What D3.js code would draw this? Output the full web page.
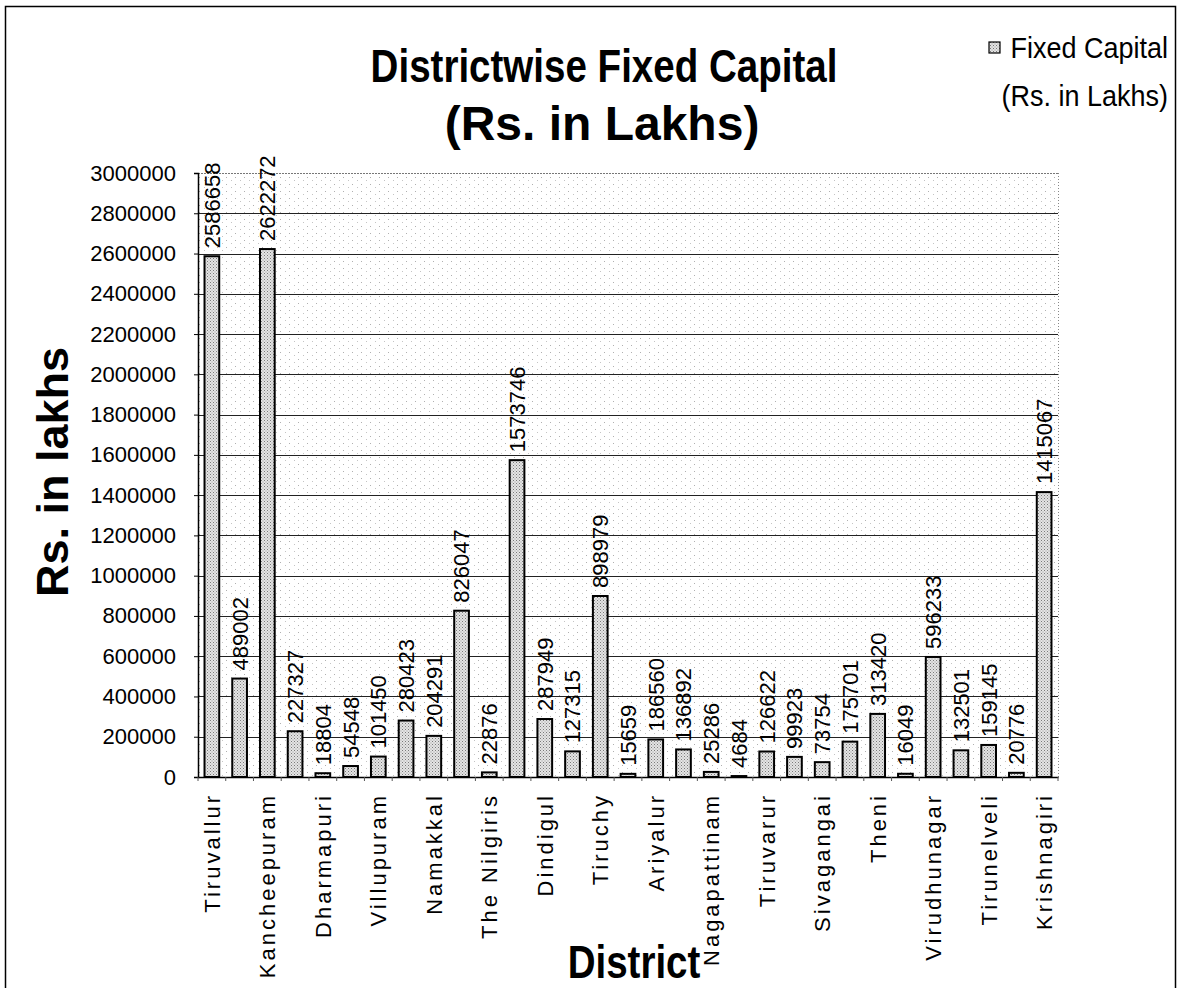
<!DOCTYPE html>
<html>
<head>
<meta charset="utf-8">
<script src="https://cdn.jsdelivr.net/npm/d3@7"></script>
<style>
html,body{margin:0;padding:0;background:#fff;}
svg{display:block;}
</style>
</head>
<body>
<svg id="chart" width="1180" height="988"></svg>
<script>
const categories = ["Tiruvallur","Chennai","Kancheepuram","Vellore","Dharmapuri","Tiruvannamalai","Villupuram","Salem","Namakkal","Erode","The Nilgiris","Coimbatore","Dindigul","Karur","Tiruchy","Perambalur","Ariyalur","Cuddalore","Nagapattinam","Thanjavur","Tiruvarur","Pudukkottai","Sivagangai","Madurai","Theni","Ramanathapuram","Virudhunagar","Thoothukudi","Tirunelveli","Kanniyakumari","Krishnagiri"];
const fixedCapital = [2586658,489002,2622272,227327,18804,54548,101450,280423,204291,826047,22876,1573746,287949,127315,898979,15659,186560,136892,25286,4684,126622,99923,73754,175701,313420,16049,596233,132501,159145,20776,1415067];
const shownLabels = ["Tiruvallur","Kancheepuram","Dharmapuri","Villupuram","Namakkal","The Nilgiris","Dindigul","Tiruchy","Ariyalur","Nagapattinam","Tiruvarur","Sivagangai","Theni","Virudhunagar","Tirunelveli","Krishnagiri"];
const yTicks = [0,200000,400000,600000,800000,1000000,1200000,1400000,1600000,1800000,2000000,2200000,2400000,2600000,2800000,3000000];
const titleLines = ["Districtwise Fixed Capital","(Rs. in Lakhs)"];
const legendLines = ["Fixed Capital","(Rs. in Lakhs)"];

const svg = d3.select("#chart");
const plot = {left:198, right:1058, top:173, bottom:777};
const FONT = "'Liberation Sans', Arial, sans-serif";

const defs = svg.append("defs");
const bp = defs.append("pattern").attr("id","barFill").attr("patternUnits","userSpaceOnUse").attr("width",3).attr("height",3);
bp.append("rect").attr("width",3).attr("height",3).attr("fill","#e4e4e4");
bp.append("rect").attr("x",0).attr("y",0).attr("width",1).attr("height",1).attr("fill","#7a7a7a");
bp.append("rect").attr("x",1.5).attr("y",1.5).attr("width",1).attr("height",1).attr("fill","#9a9a9a");
const bg = defs.append("pattern").attr("id","bgFill").attr("patternUnits","userSpaceOnUse").attr("width",9).attr("height",7);
bg.append("rect").attr("width",9).attr("height",7).attr("fill","#ffffff");
bg.append("rect").attr("x",1).attr("y",2).attr("width",1).attr("height",1).attr("fill","#b0b0b0");
bg.append("rect").attr("x",6).attr("y",5).attr("width",1).attr("height",1).attr("fill","#c4c4c4");

// outer frame
svg.append("rect").attr("x",5.5).attr("y",6.5).attr("width",1170).attr("height",1000)
  .attr("fill","none").attr("stroke","#000").attr("stroke-width",1.5);

const x = d3.scaleBand().domain(categories).range([plot.left, plot.right]).paddingInner(0.47).paddingOuter(0.235);
const y = d3.scaleLinear().domain([0,3000000]).range([plot.bottom, plot.top]);

// plot background
svg.append("rect").attr("x",plot.left).attr("y",plot.top).attr("width",plot.right-plot.left).attr("height",plot.bottom-plot.top)
  .attr("fill","url(#bgFill)");

// gridlines
svg.append("g").selectAll("line").data(yTicks.filter(d=>d>0)).join("line")
  .attr("x1",plot.left).attr("x2",plot.right)
  .attr("y1",d=>Math.round(y(d))+0.5).attr("y2",d=>Math.round(y(d))+0.5)
  .attr("stroke",d=>d===3000000?"#777":"#222").attr("stroke-width",1)
  .attr("stroke-dasharray",d=>d===3000000?"2,1":null);

// right border of plot
svg.append("line").attr("x1",plot.right+0.5).attr("x2",plot.right+0.5).attr("y1",plot.top).attr("y2",plot.bottom)
  .attr("stroke","#888").attr("stroke-dasharray","1,2");

// bars
svg.append("g").selectAll("rect").data(categories).join("rect")
  .attr("x",d=>x(d)).attr("width",x.bandwidth())
  .attr("y",(d,i)=>y(fixedCapital[i])).attr("height",(d,i)=>y(0)-y(fixedCapital[i]))
  .attr("fill","url(#barFill)").attr("stroke","#000").attr("stroke-width",2);

// value labels
svg.append("g").selectAll("text").data(categories).join("text")
  .attr("transform",(d,i)=>`translate(${x(d)+x.bandwidth()/2},${y(fixedCapital[i])-8}) rotate(-90)`)
  .attr("dy","0.36em").attr("text-anchor","start")
  .attr("font-family",FONT).attr("font-size",22)
  .attr("fill","#000")
  .text((d,i)=>fixedCapital[i]);

// y axis
const yAxis = d3.axisLeft(y).tickValues(yTicks).tickSize(4).tickPadding(18).tickFormat(d3.format("d"));
const gy = svg.append("g").attr("transform",`translate(${plot.left},0)`).call(yAxis);
gy.select(".domain").attr("stroke","#000").attr("stroke-width",1.5);
gy.selectAll(".tick line").attr("stroke","#000");
gy.selectAll(".tick text").attr("font-family",FONT).attr("font-size",22).attr("fill","#000");

// x axis
const xAxis = d3.axisBottom(x).tickValues(categories.filter(c=>shownLabels.includes(c))).tickSize(0).tickPadding(0).tickFormat(d=>d);
const gx = svg.append("g").attr("transform",`translate(0,${plot.bottom})`).call(xAxis);
gx.select(".domain").attr("stroke","#000").attr("stroke-width",1.5);
gx.selectAll(".tick text")
  .attr("transform","translate(0,16) rotate(-90)")
  .attr("x",0).attr("y",0).attr("dy","0.36em")
  .attr("text-anchor","end")
  .attr("font-family",FONT).attr("font-size",22)
  .attr("letter-spacing","3px").attr("fill","#000");
// small category boundary ticks
svg.append("g").selectAll("line").data(d3.range(categories.length+1)).join("line")
  .attr("x1",i=>plot.left + i*x.step()).attr("x2",i=>plot.left + i*x.step())
  .attr("y1",plot.bottom).attr("y2",plot.bottom+4).attr("stroke","#555").attr("stroke-width",1);

// titles (condensed)
const title = svg.append("g").attr("font-family",FONT)
  .attr("font-weight","bold").attr("text-anchor","middle").attr("fill","#000");
title.append("text").attr("font-size",47).attr("transform","translate(604,82) scale(0.82,1)").text(titleLines[0]);
title.append("text").attr("font-size",48).attr("transform","translate(602,140) scale(1.0,1)").text(titleLines[1]);

// legend
svg.append("rect").attr("x",989).attr("y",42).attr("width",11).attr("height",11)
  .attr("fill","url(#barFill)").attr("stroke","#000").attr("stroke-width",1.2);
const leg = svg.append("g").attr("font-family",FONT)
  .attr("font-size",30).attr("fill","#000").attr("text-anchor","end");
leg.append("text").attr("transform","translate(1168,58) scale(0.9,1)").text(legendLines[0]);
leg.append("text").attr("transform","translate(1168,106) scale(0.9,1)").text(legendLines[1]);

// axis titles
svg.append("text").attr("transform","translate(52,472) rotate(-90)").attr("dy","0.36em")
  .attr("text-anchor","middle").attr("font-family",FONT)
  .attr("font-weight","bold").attr("font-size",45).attr("fill","#000").text("Rs. in lakhs");
svg.append("text").attr("transform","translate(634,978) scale(0.82,1)").attr("text-anchor","middle")
  .attr("font-family",FONT)
  .attr("font-weight","bold").attr("font-size",47).attr("fill","#000").text("District");
</script>
</body>
</html>
